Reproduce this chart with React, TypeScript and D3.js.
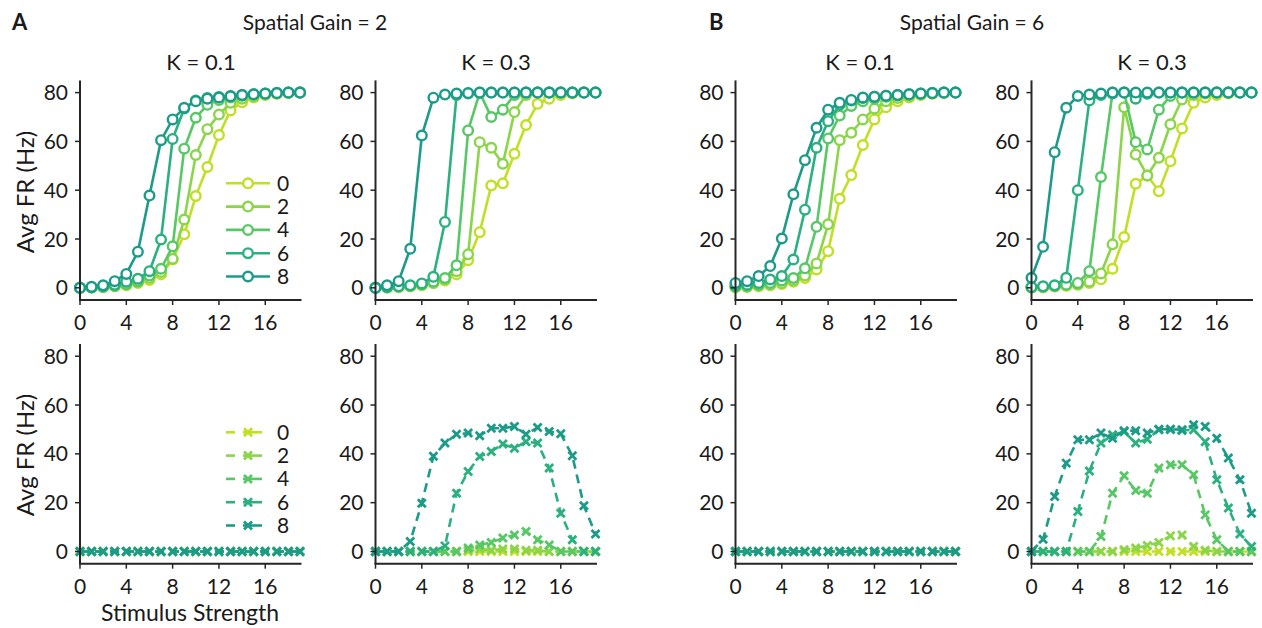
import React from 'react';
import * as d3 from 'd3';

const stim = [0, 1, 2, 3, 4, 5, 6, 7, 8, 9, 10, 11, 12, 13, 14, 15, 16, 17, 18, 19];
const xTicks = [0, 4, 8, 12, 16];
const yTicks = [0, 20, 40, 60, 80];
const levels = ['0', '2', '4', '6', '8'];
const colors = ['#c2df23', '#8ad548', '#58c765', '#2bb07f', '#1d9b89'];

// Spatial Gain = 2, K = 0.1 (total rate)
const g2k01_0 = [0, 0.1, 0.3, 0.6, 1, 2, 3.2, 5.5, 11.6, 21.9, 37.6, 49.5, 62.6, 72.7, 76, 78, 79, 79.5, 79.8, 80];
const g2k01_2 = [0, 0.1, 0.3, 0.7, 1.3, 2.3, 4, 6.5, 11.9, 28, 54.4, 65, 71, 75.8, 77.5, 78.5, 79.2, 79.6, 79.9, 80];
const g2k01_4 = [0, 0.1, 0.4, 0.8, 1.6, 2.8, 5, 7.8, 17, 57, 69.7, 75, 77, 78, 78.7, 79.2, 79.5, 79.8, 80, 80];
const g2k01_6 = [0, 0.2, 0.6, 1.2, 2.5, 3.7, 6.8, 19.8, 61, 73.5, 76.8, 77.8, 78.2, 78.6, 79, 79.3, 79.6, 79.8, 80, 80];
const g2k01_8 = [0, 0.4, 1, 2.7, 5.7, 14.8, 37.8, 60.5, 69, 73.8, 76.5, 77.5, 78, 78.5, 79, 79.3, 79.6, 79.8, 80, 80];

// Spatial Gain = 2, K = 0.3
const g2k03_0 = [0, 0.1, 0.3, 0.6, 1, 2, 3, 5.5, 11.3, 22.8, 41.9, 42.8, 54.9, 66.7, 75.4, 77.5, 79, 79.6, 80, 80];
const g2k03_2 = [0, 0.1, 0.3, 0.6, 1.2, 2, 3.5, 6.8, 13.7, 59.7, 57.4, 50.8, 72, 79, 80, 80, 80, 80, 80, 80];
const g2k03_4 = [0, 0.2, 0.5, 0.8, 1.5, 2.5, 4, 9.2, 64.5, 80, 70, 73, 79, 80, 80, 80, 80, 80, 80, 80];
const g2k03_6 = [0, 0.3, 0.6, 1, 1.8, 4.5, 27, 79, 79.6, 79.8, 80, 80, 80, 80, 80, 80, 80, 80, 80, 80];
const g2k03_8 = [0, 1, 2.7, 16, 62.4, 77.9, 79.2, 79.6, 79.8, 80, 80, 80, 80, 80, 80, 80, 80, 80, 80, 80];

// Spatial Gain = 6, K = 0.1
const g6k01_0 = [0.2, 0.3, 0.6, 1, 1.6, 2.5, 4, 7.5, 15, 36.5, 46.2, 58.5, 69, 74, 76.5, 78, 79, 79.5, 79.8, 80];
const g6k01_2 = [0.3, 0.5, 0.8, 1.3, 2, 3, 5, 10, 26, 60.5, 63.5, 69, 73.4, 76.5, 77.8, 78.6, 79.2, 79.6, 79.9, 80];
const g6k01_4 = [0.5, 0.8, 1.3, 2, 3, 4, 8, 25, 61.2, 70.6, 74.5, 76.5, 77.5, 78.3, 78.8, 79.2, 79.5, 79.8, 80, 80];
const g6k01_6 = [1, 1.3, 2, 3.4, 4.8, 11.6, 32, 57.4, 68.3, 75, 76.8, 77.8, 78.3, 78.7, 79, 79.3, 79.6, 79.8, 80, 80];
const g6k01_8 = [2, 2.7, 4.8, 8.9, 20.2, 38.3, 52.3, 65.6, 73, 75.8, 77, 78, 78.3, 78.7, 79, 79.3, 79.6, 79.8, 80, 80];

// Spatial Gain = 6, K = 0.3
const g6k03_0 = [0.1, 0.2, 0.5, 0.8, 1.2, 2, 3.5, 7.8, 20.8, 42.6, 46, 39.6, 51.9, 65.3, 75.8, 78, 79, 79.6, 80, 80];
const g6k03_2 = [0.1, 0.3, 0.6, 1, 1.5, 2.5, 5.9, 17.8, 74, 54.6, 46, 53.3, 67, 77.2, 79, 79.6, 80, 80, 80, 80];
const g6k03_4 = [0.2, 0.4, 0.8, 1.3, 2, 6.8, 45.4, 80, 80, 59.7, 56.7, 73, 78.6, 80, 80, 80, 80, 80, 80, 80];
const g6k03_6 = [0.3, 0.6, 1, 4.1, 40, 76.8, 79, 79.6, 80, 77.5, 79.5, 80, 80, 80, 80, 80, 80, 80, 80, 80];
const g6k03_8 = [4.1, 16.8, 55.6, 73.8, 78.6, 79.2, 79.6, 80, 80, 80, 80, 80, 80, 80, 80, 80, 80, 80, 80, 80];

// Bottom row (second rate measure)
const b2k01_0 = [0, 0, 0, 0, 0, 0, 0, 0, 0, 0, 0, 0, 0, 0, 0, 0, 0, 0, 0, 0];
const b2k01_2 = [0, 0, 0, 0, 0, 0, 0, 0, 0, 0, 0, 0, 0, 0, 0, 0, 0, 0, 0, 0];
const b2k01_4 = [0, 0, 0, 0, 0, 0, 0, 0, 0, 0, 0, 0, 0, 0, 0, 0, 0, 0, 0, 0];
const b2k01_6 = [0, 0, 0, 0, 0, 0, 0, 0, 0, 0, 0, 0, 0, 0, 0, 0, 0, 0, 0, 0];
const b2k01_8 = [0, 0, 0, 0, 0, 0, 0, 0, 0, 0, 0, 0, 0, 0, 0, 0, 0, 0, 0, 0];

const b2k03_0 = [0, 0, 0, 0, 0, 0, 0, 0, 0, 0, 0, 0, 0, 0, 0, 0, 0, 0, 0, 0];
const b2k03_2 = [0, 0, 0, 0, 0, 0, 0, 0, 0.5, 1, 0.5, 1, 1, 0.5, 0.5, 0, 0, 0, 0, 0];
const b2k03_4 = [0, 0, 0, 0, 0, 0, 0, 0, 1.4, 2.7, 3.7, 5.5, 6.8, 8.2, 4.8, 2.7, 0, 0, 0, 0];
const b2k03_6 = [0, 0, 0, 0, 0, 0, 2.3, 23.9, 32.8, 38.9, 41, 44, 42.3, 45, 44.4, 34.2, 15.7, 4.8, 0, 0];
const b2k03_8 = [0, 0, 0, 4.1, 19.8, 39, 44.4, 48, 48.5, 47.4, 50.5, 50.5, 51.2, 48, 50.8, 49.2, 48.2, 39.2, 18.7, 7.2];

const b6k01_0 = [0, 0, 0, 0, 0, 0, 0, 0, 0, 0, 0, 0, 0, 0, 0, 0, 0, 0, 0, 0];
const b6k01_2 = [0, 0, 0, 0, 0, 0, 0, 0, 0, 0, 0, 0, 0, 0, 0, 0, 0, 0, 0, 0];
const b6k01_4 = [0, 0, 0, 0, 0, 0, 0, 0, 0, 0, 0, 0, 0, 0, 0, 0, 0, 0, 0, 0];
const b6k01_6 = [0, 0, 0, 0, 0, 0, 0, 0, 0, 0, 0, 0, 0, 0, 0, 0, 0, 0, 0, 0];
const b6k01_8 = [0, 0, 0, 0, 0, 0, 0, 0, 0, 0, 0, 0, 0, 0, 0, 0, 0, 0, 0, 0];

const b6k03_0 = [0, 0, 0, 0, 0, 0, 0, 0, 0, 0, 0, 0, 0, 0, 0, 0, 0, 0, 0, 0];
const b6k03_2 = [0, 0, 0, 0, 0, 0, 0, 0, 0.7, 1.4, 2.5, 3.7, 6.4, 6.8, 2, 0.5, 0, 0, 0, 0];
const b6k03_4 = [0, 0, 0, 0, 0, 0, 6.1, 23.9, 31, 25, 23.9, 34.2, 35.5, 35.5, 31.4, 15, 4.8, 0, 0, 0];
const b6k03_6 = [0, 0, 0, 0, 16.4, 33, 44.4, 47.8, 49, 44.4, 46, 49.9, 50, 49.6, 49.9, 45, 29.4, 17.8, 7.2, 2];
const b6k03_8 = [0, 5, 22.5, 36.2, 45.8, 45.8, 48.5, 46.4, 49.5, 49.5, 48.5, 50.1, 50.1, 49.9, 51.9, 51.2, 46.4, 38.3, 29.4, 15.7];

const FONT = 'Lato, "Open Sans", sans-serif';
const TXT = '#1a1a1a';
const AX = '#262626';

const colX = [80, 375.5, 735.5, 1031.5];
const PW = 220;
const rowRange: [number, number][] = [[300, 80.4], [563.7, 344]];

type Panel = { col: number; row: number; kind: 'circle' | 'cross'; series: number[][]; legend?: boolean };

const panels: Panel[] = [
  { col: 0, row: 0, kind: 'circle', series: [g2k01_0, g2k01_2, g2k01_4, g2k01_6, g2k01_8], legend: true },
  { col: 1, row: 0, kind: 'circle', series: [g2k03_0, g2k03_2, g2k03_4, g2k03_6, g2k03_8] },
  { col: 2, row: 0, kind: 'circle', series: [g6k01_0, g6k01_2, g6k01_4, g6k01_6, g6k01_8] },
  { col: 3, row: 0, kind: 'circle', series: [g6k03_0, g6k03_2, g6k03_4, g6k03_6, g6k03_8] },
  { col: 0, row: 1, kind: 'cross', series: [b2k01_0, b2k01_2, b2k01_4, b2k01_6, b2k01_8], legend: true },
  { col: 1, row: 1, kind: 'cross', series: [b2k03_0, b2k03_2, b2k03_4, b2k03_6, b2k03_8] },
  { col: 2, row: 1, kind: 'cross', series: [b6k01_0, b6k01_2, b6k01_4, b6k01_6, b6k01_8] },
  { col: 3, row: 1, kind: 'cross', series: [b6k03_0, b6k03_2, b6k03_4, b6k03_6, b6k03_8] },
];

const crossPath = 'M-4,-4L4,4M-4,4L4,-4';

function Marker({ kind, x, y, color }: { kind: string; x: number; y: number; color: string }) {
  if (kind === 'circle') {
    return <circle cx={x} cy={y} r={4.8} fill="#fff" stroke={color} strokeWidth={2.4} />;
  }
  return <path d={crossPath} transform={`translate(${x},${y})`} stroke={color} strokeWidth={2.8} fill="none" />;
}

function PanelView({ p }: { p: Panel }) {
  const x0 = colX[p.col];
  const x = d3.scaleLinear().domain([0, 19]).range([x0, x0 + PW]);
  const y = d3.scaleLinear().domain([-5, 85]).range(rowRange[p.row]);
  const line = d3
    .line<number>()
    .x((_, i) => x(stim[i]))
    .y((d) => y(d));
  const yBase = y(-5);
  const yTop = y(85);
  return (
    <g>
      {p.series.map((s, si) => (
        <g key={si}>
          <path
            d={line(s) || ''}
            fill="none"
            stroke={colors[si]}
            strokeWidth={2.6}
            strokeDasharray={p.kind === 'cross' ? '9 6' : undefined}
          />
          {s.map((v, i) => (
            <Marker key={i} kind={p.kind} x={x(stim[i])} y={y(v)} color={colors[si]} />
          ))}
        </g>
      ))}
      <line x1={x0} x2={x0} y1={yTop} y2={yBase} stroke={AX} strokeWidth={2} />
      <line x1={x0 - 1} x2={x(19) + 1.5} y1={yBase} y2={yBase} stroke={AX} strokeWidth={2} />
      {yTicks.map((t) => (
        <g key={'y' + t}>
          <line x1={x0 - 5} x2={x0} y1={y(t)} y2={y(t)} stroke={AX} strokeWidth={1.5} />
          <text x={x0 - 12} y={y(t)} dy="0.36em" textAnchor="end" fontSize={21} fill={TXT} fontFamily={FONT}>
            {t}
          </text>
        </g>
      ))}
      {xTicks.map((t) => (
        <g key={'x' + t}>
          <line x1={x(t)} x2={x(t)} y1={yBase} y2={yBase + 5} stroke={AX} strokeWidth={1.5} />
          <text x={x(t)} y={yBase + 30} textAnchor="middle" fontSize={21} fill={TXT} fontFamily={FONT}>
            {t}
          </text>
        </g>
      ))}
      {p.legend &&
        levels.map((lv, i) => {
          const ly = (p.row === 0 ? 183.3 : 432.3) + i * 23.3;
          return (
            <g key={'l' + lv}>
              {p.kind === 'circle' ? (
                <line x1={226} x2={270} y1={ly} y2={ly} stroke={colors[i]} strokeWidth={2.6} />
              ) : (
                <g>
                  <line x1={226} x2={235} y1={ly} y2={ly} stroke={colors[i]} strokeWidth={2.6} />
                  <line x1={243} x2={262} y1={ly} y2={ly} stroke={colors[i]} strokeWidth={2.6} />
                </g>
              )}
              <Marker kind={p.kind} x={248} y={ly} color={colors[i]} />
              <text x={277} y={ly} dy="0.36em" fontSize={21} fill={TXT} fontFamily={FONT}>
                {lv}
              </text>
            </g>
          );
        })}
    </g>
  );
}

export default function App() {
  return (
    <svg width={1262} height={628} style={{ position: 'absolute', left: 0, top: 0, background: '#fff' }}>
      <rect width={1262} height={628} fill="#fff" />
      <text x={12} y={30} fontSize={22} fontWeight="bold" fill={TXT} fontFamily={FONT}>A</text>
      <text x={709} y={30} fontSize={22} fontWeight="bold" fill={TXT} fontFamily={FONT}>B</text>
      <text x={315} y={30} textAnchor="middle" fontSize={21} fill={TXT} fontFamily={FONT}>Spatial Gain = 2</text>
      <text x={972} y={30} textAnchor="middle" fontSize={21} fill={TXT} fontFamily={FONT}>Spatial Gain = 6</text>
      <text x={201} y={70} textAnchor="middle" fontSize={22} fill={TXT} fontFamily={FONT}>K = 0.1</text>
      <text x={496} y={70} textAnchor="middle" fontSize={22} fill={TXT} fontFamily={FONT}>K = 0.3</text>
      <text x={860} y={70} textAnchor="middle" fontSize={22} fill={TXT} fontFamily={FONT}>K = 0.1</text>
      <text x={1152} y={70} textAnchor="middle" fontSize={22} fill={TXT} fontFamily={FONT}>K = 0.3</text>
      <text transform="translate(34,192) rotate(-90)" textAnchor="middle" fontSize={24} fill={TXT} fontFamily={FONT}>Avg FR (Hz)</text>
      <text transform="translate(34,455) rotate(-90)" textAnchor="middle" fontSize={24} fill={TXT} fontFamily={FONT}>Avg FR (Hz)</text>
      <text x={190} y={621} textAnchor="middle" fontSize={23} fill={TXT} fontFamily={FONT}>Stimulus Strength</text>
      {panels.map((p, i) => (
        <PanelView key={i} p={p} />
      ))}
    </svg>
  );
}
